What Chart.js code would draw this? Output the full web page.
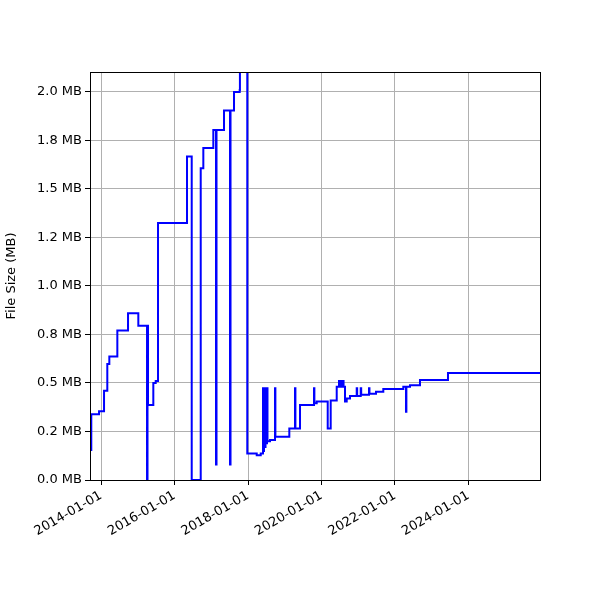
<!DOCTYPE html>
<html><head><meta charset="utf-8">
<script src="https://cdn.jsdelivr.net/npm/chart.js@4"></script>
<style>html,body{margin:0;padding:0;background:#fff}#w{width:600px;height:600px}</style>
</head><body><div id="w"><canvas id="c"></canvas></div>
<script>
const dates = [2013.728,2013.735,2013.946,2014.082,2014.171,2014.226,2014.444,2014.735,2015.015,2015.252,2015.265,2015.279,2015.423,2015.488,2015.551,2016.340,2016.468,2016.713,2016.784,2017.056,2017.129,2017.143,2017.347,2017.510,2017.524,2017.619,2017.774,2017.78,2017.98,2018.237,2018.346,2018.408,2018.42,2018.435,2018.45,2018.476,2018.49,2018.517,2018.53,2018.599,2018.735,2018.745,2019.124,2019.279,2019.29,2019.415,2019.796,2019.806,2019.869,2020.169,2020.250,2020.414,2020.476,2020.49,2020.531,2020.545,2020.585,2020.60,2020.639,2020.686,2020.776,2020.958,2020.97,2021.067,2021.08,2021.293,2021.305,2021.483,2021.682,2022.226,2022.299,2022.31,2022.408,2022.680,2023.442,2025.946];
const sizesMB = [0.155,0.339,0.355,0.46,0.598,0.636,0.77,0.86,0.795,0,0.795,0.387,0.50,0.51,1.325,1.667,0,1.607,1.711,1.804,0.08,1.804,1.904,0.08,1.904,2.0,2.01,2.2,0.137,0.128,0.137,0.473,0.15,0.473,0.17,0.473,0.19,0.473,0.2,0.206,0.473,0.223,0.265,0.473,0.265,0.387,0.473,0.395,0.404,0.266,0.41,0.481,0.51,0.481,0.51,0.481,0.51,0.481,0.404,0.42,0.433,0.473,0.433,0.473,0.44,0.473,0.445,0.455,0.469,0.481,0.352,0.481,0.488,0.515,0.552,0.552];
const xTickYears = [2014,2016,2018,2020,2022,2024];
const xTickLabels = ["2014-01-01","2016-01-01","2018-01-01","2020-01-01","2022-01-01","2024-01-01"];
const yTickValues = [0,0.25,0.5,0.75,1.0,1.25,1.5,1.75,2.0];
const yTickLabels = ["0.0 MB","0.2 MB","0.5 MB","0.8 MB","1.0 MB","1.2 MB","1.5 MB","1.8 MB","2.0 MB"];

const frame = {id:'frame',afterDraw(ch){const a=ch.chartArea,c=ch.ctx;c.save();c.strokeStyle='#000';c.lineWidth=1;c.strokeRect(a.left+0.5,a.top+0.5,a.right-a.left,a.bottom-a.top);c.restore();}};
const font = {family:'DejaVu Sans',size:13};
new Chart(document.getElementById('c'),{
 type:'line',
 data:{datasets:[{data:dates.map((d,i)=>({x:d,y:sizesMB[i]})),stepped:true,borderColor:'#0000ff',borderWidth:2,pointRadius:0,fill:false}]},
 options:{responsive:true,maintainAspectRatio:false,animation:false,
  layout:{padding:{top:72,right:60,left:0,bottom:0}},
  plugins:{legend:{display:false},tooltip:{enabled:false}},
  scales:{
   x:{type:'linear',min:2013.70,max:2025.946,
     afterBuildTicks(s){s.ticks=xTickYears.map(v=>({value:v}));},
     afterFit(s){s.height=120;},
     ticks:{font,color:'#000',minRotation:30,maxRotation:30,callback:(v)=>xTickLabels[xTickYears.indexOf(v)]},
     grid:{color:'#b0b0b0',tickColor:'#000',tickLength:5},border:{color:'#000'}},
   y:{min:0,max:2.103,
     afterBuildTicks(s){s.ticks=yTickValues.map(v=>({value:v}));},
     afterFit(s){s.width=90;},
     ticks:{font,color:'#000',callback:(v)=>yTickLabels[yTickValues.indexOf(v)]},
     title:{display:true,text:'File Size (MB)',font,color:'#000'},
     grid:{color:'#b0b0b0',tickColor:'#000',tickLength:5},border:{color:'#000'}}
  }},
 plugins:[frame]
});
</script></body></html>
